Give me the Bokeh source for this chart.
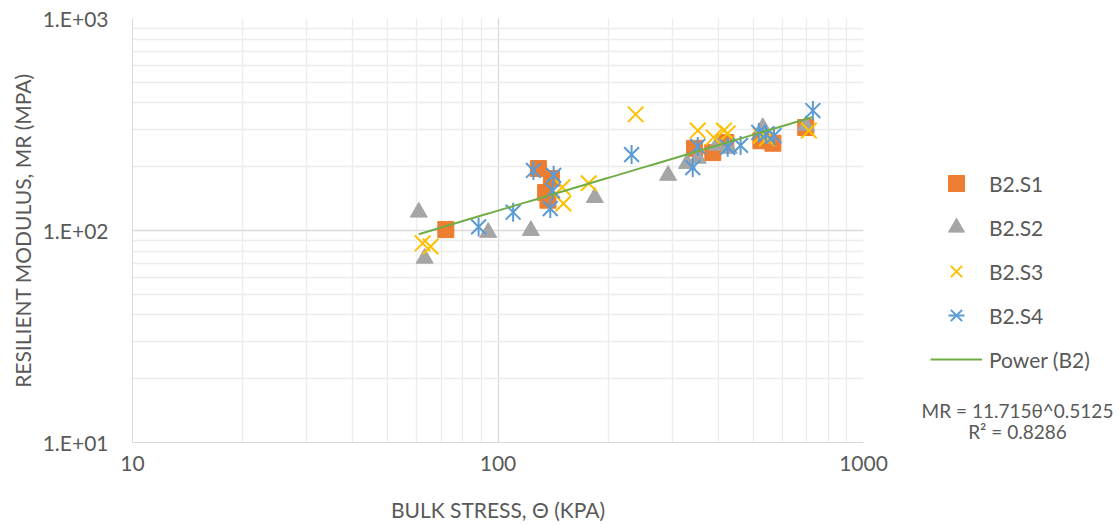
import numpy as np
from bokeh.plotting import figure
from bokeh.layouts import row
from bokeh.models import FixedTicker, Legend, LegendItem, Label
from bokeh.embed import file_html
from bokeh.resources import INLINE

# Bulk stress (kPa) and resilient modulus (MPa) per specimen
s1_theta = [72, 129, 140, 135, 137, 345, 387, 420, 524, 565, 695]
s1_mr = [101, 196, 176, 151, 139, 244, 233, 260, 265, 258, 306]

s2_theta = [60.7, 63, 94, 123, 184, 292, 329, 352, 397, 428, 530, 696]
s2_mr = [122, 74, 98, 100, 143, 182, 207, 219, 252, 244, 306, 313]

s3_theta = [62.2, 65.4, 150, 151, 177, 238, 352, 389, 415, 425, 524, 544, 709]
s3_mr = [87, 84, 160, 134, 167, 353, 296, 275, 296, 287, 280, 272, 296]

s4_theta = [88.5, 110, 125, 142, 141, 139, 232, 341, 352, 425, 461, 517, 541, 569, 727]
s4_mr = [104, 122, 192, 182, 154, 127, 228, 198, 249, 247, 252, 290, 284, 280, 368]

series_names = ["B2.S1", "B2.S2", "B2.S3", "B2.S4"]
trend_name = "Power (B2)"

# Power-law fit MR = k1 * theta^k2
fit_k1 = 11.715
fit_k2 = 0.5125
fit_r2 = 0.8286

x_ticks = [10, 100, 1000]
x_tick_labels = ["10", "100", "1000"]
y_ticks = [10, 100, 1000]
y_tick_labels = ["1.E+01", "1.E+02", "1.E+03"]

TXT = "#595959"
FONT = "Lato"
ORANGE, GRAY, GOLD, BLUE, GREEN = "#ED7D31", "#A5A5A5", "#FFC000", "#5B9BD5", "#70AD47"

p = figure(width=893, height=525, x_axis_type="log", y_axis_type="log",
           x_range=(10, 1000), y_range=(10, 1000),
           output_backend="svg", toolbar_location=None,
           min_border_left=132, min_border_right=30,
           min_border_top=18, min_border_bottom=83)
p.outline_line_color = None
p.border_fill_color = "white"

minor = [m * d for d in (10, 100) for m in range(2, 10)]
p.xaxis.ticker = FixedTicker(ticks=x_ticks, minor_ticks=minor)
p.yaxis.ticker = FixedTicker(ticks=y_ticks, minor_ticks=minor)
p.xaxis.major_label_overrides = dict(zip(x_ticks, x_tick_labels))
p.yaxis.major_label_overrides = dict(zip(y_ticks, y_tick_labels))

for ax in (p.xaxis[0], p.yaxis[0]):
    ax.axis_line_color = "#d9d9d9"
    ax.major_tick_line_color = None
    ax.minor_tick_line_color = None
    ax.major_label_text_color = TXT
    ax.major_label_text_font = FONT
    ax.major_label_text_font_size = "21px"
    ax.axis_label_text_color = TXT
    ax.axis_label_text_font = FONT
    ax.axis_label_text_font_size = "21px"
    ax.axis_label_text_font_style = "normal"

p.xaxis.axis_label = "BULK STRESS, Θ (KPA)"
p.yaxis.axis_label = "RESILIENT MODULUS, MR (MPA)"
p.xaxis.major_label_standoff = 7
p.yaxis.major_label_standoff = 18
p.xaxis.axis_label_standoff = 23
p.yaxis.axis_label_standoff = 5

for g in (p.xgrid[0], p.ygrid[0]):
    g.grid_line_color = "#d9d9d9"
    g.minor_grid_line_color = "#ececec"
    g.grid_line_width = 1.3
    g.minor_grid_line_width = 1.3

# marker styles shared by the chart and its key
sty1 = dict(marker="square", size=16, fill_color=ORANGE, line_color=ORANGE)
sty2 = dict(marker="triangle", size=17, fill_color=GRAY, line_color=GRAY)
sty3 = dict(marker="x", size=22, line_color=GOLD, line_width=2)
sty4a = dict(marker="x", size=21, line_color=BLUE, line_width=2)
sty4b = dict(marker="dash", size=19, angle=np.pi / 2, line_color=BLUE, line_width=2)
sty_t = dict(line_color=GREEN, line_width=2)

p.scatter(s1_theta, s1_mr, **sty1)
p.scatter(s2_theta, s2_mr, **sty2)
p.scatter(s3_theta, s3_mr, **sty3)
p.scatter(s4_theta, s4_mr, **sty4a)
p.scatter(s4_theta, s4_mr, **sty4b)

all_theta = s1_theta + s2_theta + s3_theta + s4_theta
tx = np.geomspace(min(all_theta), max(all_theta), 60)
p.line(tx, fit_k1 * tx ** fit_k2, **sty_t)

# key panel to the right of the chart; its glyphs sit outside its visible range
k = figure(width=226, height=525, x_range=(0, 1), y_range=(0, 1),
           output_backend="svg", toolbar_location=None,
           min_border=0, x_axis_type=None, y_axis_type=None)
k.outline_line_color = None
k.grid.visible = False
k.border_fill_color = "white"

off = [-5, -6]
k1 = k.scatter(off, off, **sty1)
k2 = k.scatter(off, off, **sty2)
k3 = k.scatter(off, off, **sty3)
k4a = k.scatter(off, off, **sty4a)
k4b = k.scatter(off, off, **sty4b)
kt = k.line(off, off, **sty_t)

legend = Legend(items=[
    LegendItem(label=series_names[0], renderers=[k1]),
    LegendItem(label=series_names[1], renderers=[k2]),
    LegendItem(label=series_names[2], renderers=[k3]),
    LegendItem(label=series_names[3], renderers=[k4a, k4b]),
    LegendItem(label=trend_name, renderers=[kt]),
], location=(37, 63), glyph_width=52, glyph_height=40, label_height=25,
    spacing=4, padding=10, margin=0, label_standoff=7,
    border_line_color=None, background_fill_alpha=0,
    label_text_color=TXT, label_text_font=FONT, label_text_font_size="21px")
k.add_layout(legend, "center")

for txt, yy in ((f"MR = {fit_k1}θ^{fit_k2}", 32), (f"R² = {fit_r2}", 11)):
    k.add_layout(Label(x=124, y=yy, x_units="screen", y_units="screen",
                       text=txt, text_align="center", text_baseline="middle",
                       text_color=TXT, text_font=FONT, text_font_size="19px"))

layout = row(p, k, spacing=0)
open("out.html", "w").write(file_html(layout, INLINE))
